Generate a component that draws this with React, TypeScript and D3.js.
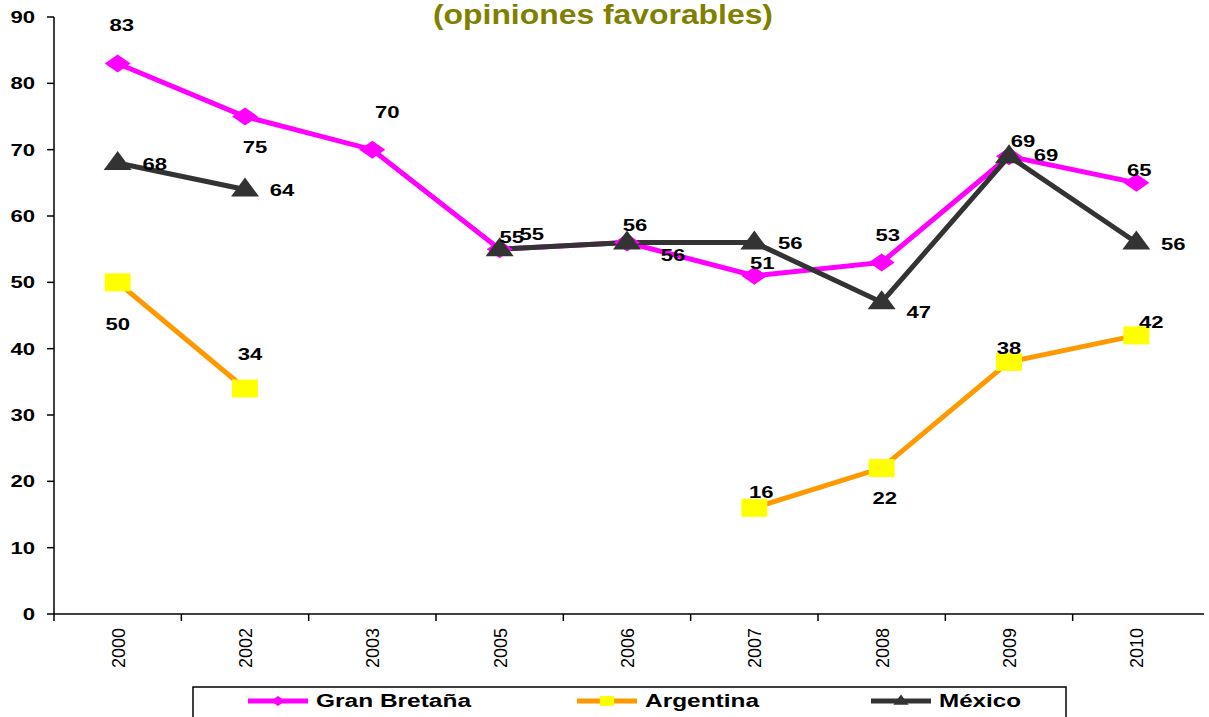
import { useEffect, useRef } from 'react';
import * as d3 from 'd3';

const years = ['2000', '2002', '2003', '2005', '2006', '2007', '2008', '2009', '2010'];
const granBretana: (number | null)[] = [83, 75, 70, 55, 56, 51, 53, 69, 65];
const argentina: (number | null)[] = [50, 34, null, null, null, 16, 22, 38, 42];
const mexico: (number | null)[] = [68, 64, null, 55, 56, 56, 47, 69, 56];
const yTicks = [0, 10, 20, 30, 40, 50, 60, 70, 80, 90];
const seriesNames = ['Gran Bretaña', 'Argentina', 'México'];

// where each data label sits relative to its point (px)
const gbLabelOffsets = [[4, -38], [10, 30], [15, -38], [12, -12], [46, 12], [8, -13], [6, -27], [37, -1], [3, -13]];
const arLabelOffsets = [[0, 42], [5, -35], [0, 0], [0, 0], [0, 0], [7, -16], [3, 30], [0, -14], [15, -13]];
const mxLabelOffsets = [[37, 1], [37, 0], [0, 0], [32, -15], [8, -18], [36, 0], [37, 10], [14, -15], [37, 1]];

const FONT = '"Liberation Sans", Arial, sans-serif';
const SX = 1.3; // the original text and markers are stretched wide

export default function App() {
  const svgRef = useRef<SVGSVGElement>(null);
  const width = 1209;
  const height = 717;

  useEffect(() => {
    if (!svgRef.current) return;
    const svg = d3.select(svgRef.current);
    svg.selectAll('*').remove();

    const left = 54, right = 1200, top = 17, bottom = 614;

    const x = d3.scaleBand<string>().domain(years).range([left, right]);
    const y = d3.scaleLinear().domain([0, 90]).range([bottom, top]);
    const cx = (i: number) => (x(years[i]) as number) + x.bandwidth() / 2;

    const wideText = (g: any, px: number, py: number, txt: string | number, size: number, anchor: string) =>
      g.append('text')
        .attr('transform', `translate(${px},${py}) scale(${SX},1)`)
        .attr('text-anchor', anchor)
        .attr('dominant-baseline', 'central')
        .attr('font-family', FONT)
        .attr('font-weight', 'bold')
        .attr('font-size', size)
        .text(txt);

    // title (top line is cut off in the original)
    svg.append('text')
      .attr('x', 433).attr('y', 24)
      .attr('textLength', 340)
      .attr('lengthAdjust', 'spacingAndGlyphs')
      .attr('fill', '#808000')
      .attr('font-family', FONT)
      .attr('font-weight', 'bold')
      .attr('font-size', 27)
      .text('(opiniones favorables)');

    // y axis
    const yAxis = svg.append('g');
    yAxis.append('line')
      .attr('x1', left).attr('x2', left)
      .attr('y1', y(90)).attr('y2', y(0))
      .attr('stroke', '#000').attr('stroke-width', 1.5);
    yTicks.forEach((t) => {
      yAxis.append('line')
        .attr('x1', left - 7).attr('x2', left)
        .attr('y1', y(t)).attr('y2', y(t))
        .attr('stroke', '#000').attr('stroke-width', 1.5);
      wideText(yAxis, 35, y(t), t, 17, 'end');
    });

    // x axis
    const xAxis = svg.append('g');
    xAxis.append('line')
      .attr('x1', left).attr('x2', right + 4)
      .attr('y1', bottom).attr('y2', bottom)
      .attr('stroke', '#000').attr('stroke-width', 1.5);
    years.forEach((yr, i) => {
      const bx = x(yr) as number;
      xAxis.append('line')
        .attr('x1', bx).attr('x2', bx)
        .attr('y1', bottom).attr('y2', bottom + 7)
        .attr('stroke', '#000').attr('stroke-width', 1.5);
      xAxis.append('text')
        .attr('transform', `translate(${cx(i) + 1},${628}) rotate(-90)`)
        .attr('text-anchor', 'end')
        .attr('dominant-baseline', 'central')
        .attr('font-family', FONT)
        .attr('font-size', 18)
        .text(yr);
    });

    const line = d3.line<[number, number | null]>()
      .defined((d) => d[1] !== null)
      .x((d) => d[0])
      .y((d) => y(d[1] as number));

    const series = [
      { name: seriesNames[0], values: granBretana, color: '#FF00FF', fill: '#FF00FF', marker: 'diamond', offsets: gbLabelOffsets },
      { name: seriesNames[1], values: argentina, color: '#FF9900', fill: '#FFFF00', marker: 'square', offsets: arLabelOffsets },
      { name: seriesNames[2], values: mexico, color: '#333333', fill: '#333333', marker: 'triangle', offsets: mxLabelOffsets },
    ];

    // marker shapes drawn around (0,0), k = size factor
    const markerPath = (kind: string, k: number) => {
      if (kind === 'diamond') return `M0,${-9 * k}L${13 * k},0L0,${9 * k}L${-13 * k},0Z`;
      if (kind === 'square') return `M${-13 * k},${-9 * k}H${13 * k}V${9 * k}H${-13 * k}Z`;
      return `M0,${-12 * k}L${14 * k},${7 * k}L${-14 * k},${7 * k}Z`;
    };

    series.forEach((s) => {
      const pts: [number, number | null][] = s.values.map((v, i) => [cx(i), v]);
      svg.append('path')
        .datum(pts)
        .attr('d', line)
        .attr('fill', 'none')
        .attr('stroke', s.color)
        .attr('stroke-width', 5);
    });

    series.forEach((s) => {
      const g = svg.append('g');
      s.values.forEach((v, i) => {
        if (v === null) return;
        g.append('path')
          .attr('transform', `translate(${cx(i)},${y(v)})`)
          .attr('d', markerPath(s.marker, 1))
          .attr('fill', s.fill);
      });
    });

    series.forEach((s) => {
      const g = svg.append('g');
      s.values.forEach((v, i) => {
        if (v === null) return;
        wideText(g, cx(i) + s.offsets[i][0], y(v) + s.offsets[i][1], v, 17, 'middle');
      });
    });

    // legend
    const lg = svg.append('g');
    lg.append('rect')
      .attr('x', 193).attr('y', 687)
      .attr('width', 873).attr('height', 50)
      .attr('fill', '#fff')
      .attr('stroke', '#000').attr('stroke-width', 1.5);
    const legendX = [248, 577, 871];
    const legendTextW = [155, 114, 82];
    const ly = 701;
    series.forEach((s, i) => {
      const x0 = legendX[i];
      lg.append('line')
        .attr('x1', x0).attr('x2', x0 + 60)
        .attr('y1', ly).attr('y2', ly)
        .attr('stroke', s.color).attr('stroke-width', 5);
      lg.append('path')
        .attr('transform', `translate(${x0 + 30},${ly})`)
        .attr('d', markerPath(s.marker, 0.55))
        .attr('fill', s.fill);
      lg.append('text')
        .attr('x', x0 + 68).attr('y', ly)
        .attr('textLength', legendTextW[i])
        .attr('lengthAdjust', 'spacingAndGlyphs')
        .attr('dominant-baseline', 'central')
        .attr('font-family', FONT)
        .attr('font-weight', 'bold')
        .attr('font-size', 18)
        .text(s.name);
    });
  }, []);

  return (
    <div style={{ position: 'fixed', left: 0, top: 0 }}>
      <svg ref={svgRef} width={width} height={height} style={{ display: 'block', background: '#fff' }} />
    </div>
  );
}
